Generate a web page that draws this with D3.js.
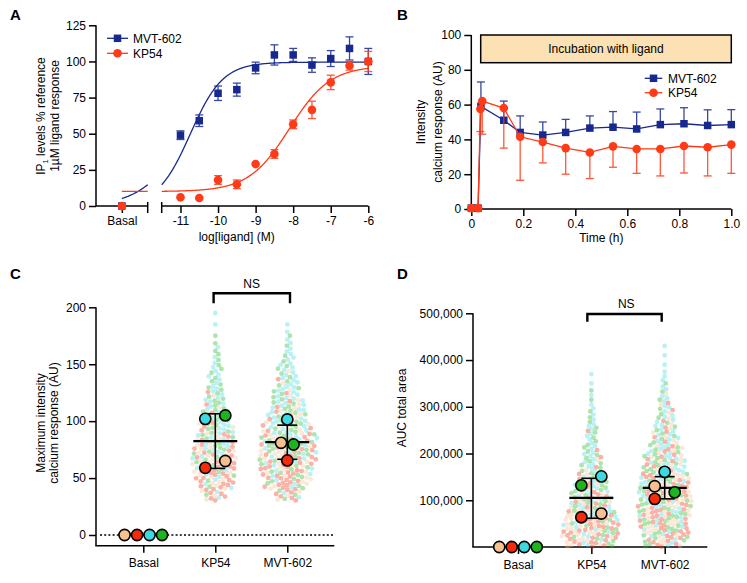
<!DOCTYPE html>
<html><head><meta charset="utf-8">
<script src="https://cdn.jsdelivr.net/npm/d3@7"></script>
<style>
body{margin:0;background:#fff}
svg{display:block}
text{font-family:"Liberation Sans",Arial,Helvetica,sans-serif;fill:#000}
</style>
</head><body>
<svg id="c" width="747" height="583"></svg>
<script>
// ================= DATA =================
// Panel A – IP1 dose response
const logConc   = [-11,-10.5,-10,-9.5,-9,-8.5,-8,-7.5,-7,-6.5,-6];
const basalLog  = -12;
const mvtIP     = [49,59,78,80.5,95.5,104.5,104.5,97.5,102,109,100];
const mvtIPErr  = [3,4,5,4.5,4,7,4.5,5,5.5,8,9];
const kpIP      = [6,5.5,18,15,29,36,56.5,66.5,85.5,97,100];
const kpIPErr   = [0,0,3,3,0,3,3,6,5,3,7];
const basalIP   = [0,0];               // MVT-602, KP54
const mvtFit    = [0,99.5,-10.74,1];   // bottom, top, logEC50, hill
const kpFit     = [10,97,-8.1,0.8];
const aYTicks   = [0,25,50,75,100,125];
const aXTicks   = [-11,-10,-9,-8,-7,-6];

// Panel B – calcium time course
const mvtTime   = [0,0.026,0.037,0.125,0.188,0.275,0.363,0.456,0.545,0.636,0.727,0.818,0.909,1.0];
const mvtCa     = [0.5,0.5,59,51,44,42.5,44,46.5,47,46,48.5,49,48,48.5];
const mvtCaErr  = [0,0,14,11,9.5,7.5,7.5,7,9,9.7,9,9.2,9,8.6];
const kpTime    = [0,0.026,0.035,0.042,0.125,0.188,0.275,0.363,0.456,0.545,0.636,0.727,0.818,0.909,1.0];
const kpCa      = [0.5,0.5,57.5,62,58,41.5,38.5,35,32.5,36,34.5,34.5,36.2,35.5,37];
const kpCaErr   = [0,0,13,19,23,25,12,15,15,12,14,15.5,15.5,16.5,16.5];
const bYTicks   = [0,20,40,60,80,100];
const bXTicks   = [0,0.2,0.4,0.6,0.8,1.0];

// Panels C/D – categories and donor (replicate) colours: peach, red, cyan, green
const groups    = ["Basal","KP54","MVT-602"];
const donors    = ["#f7c08f","#f52a0a","#3ed8e0","#1fb31f"];
// Panel C – max intensity, replicate means per donor [peach, red, cyan, green]
const cBasal    = [0,0,0,0];
const cKP       = [65,59,102,105];
const cMVT      = [81,65.5,101.5,79.5];
const cMeanSD   = {KP54:[82.5,58.5,106.5], "MVT-602":[81.5,66.5,96.5]}; // mean, low, high
const cYTicks   = [0,50,100,150,200];
// single-cell distribution, counts per 10-unit bin starting at 30
const cBin0 = 30, cBinW = 10;
const cKPCells = [
  [3,5,6,7,6,5,3,2,1,1,0,0,0,0,0,0,0],
  [6,9,9,8,6,4,3,2,1,1,0,0,0,0,0,0,0],
  [2,3,4,5,6,6,6,6,5,4,4,3,2,1,0,1,1],
  [1,2,3,4,5,6,6,6,5,4,3,3,2,2,1,0,0]];
const cMVTCells = [
  [3,5,6,8,8,7,6,4,3,2,1,1,0,0,0,0],
  [6,10,11,10,8,6,4,3,2,1,1,0,0,0,0,0],
  [2,3,4,5,6,7,8,8,8,7,6,5,4,3,2,1],
  [3,5,6,7,8,8,7,6,5,4,3,3,2,1,1,0]];
// Panel D – AUC
const dBasal    = [0,0,0,0];
const dKP       = [71600,63700,151000,132000];
const dMVT      = [130000,103000,160700,117000];
const dMeanSD   = {KP54:[105000,61500,147000], "MVT-602":[126500,103000,150500]};
const dYTicks   = [100000,200000,300000,400000,500000];
const dBin0 = 0, dBinW = 20000;
const dKPCells = [
  [7,8,8,7,6,4,3,2,1,1,0,0,0,0,0,0,0,0,0],
  [9,10,9,7,5,4,3,2,1,1,1,0,1,0,0,0,0,0,0],
  [3,4,4,5,5,5,5,5,4,4,3,3,3,2,2,1,1,1,1],
  [4,5,5,5,5,5,5,4,4,3,3,2,2,2,1,1,1,0,0]];
const dMVTCells = [
  [4,5,6,6,6,6,6,6,5,4,4,3,2,2,1,1,1,0,0,0,0,0],
  [7,8,8,8,7,7,6,5,4,4,3,2,2,1,1,1,0,0,0,0,0,0],
  [3,4,4,5,5,5,6,6,6,6,5,5,4,4,3,3,2,2,2,1,1,1],
  [5,6,6,7,7,7,6,6,5,5,4,3,3,2,2,1,1,1,0,0,0,0]];

// ================= DRAWING =================
const BLUE = "#17298f", RED = "#ff3a17";
const svg = d3.select("#c");
const FS = 12;

function styleAxis(g){
  g.select(".domain").remove();
  g.selectAll(".tick line").attr("stroke","#000").attr("stroke-width",1.5);
  g.selectAll(".tick text").attr("font-size",FS).attr("fill","#000");
  g.attr("font-family",null).attr("font-size",null);
}
function hline(g,x1,x2,y,w){g.append("line").attr("x1",x1).attr("x2",x2).attr("y1",y).attr("y2",y).attr("stroke","#000").attr("stroke-width",w||1.5);}
function vline(g,x,y1,y2,w){g.append("line").attr("x1",x).attr("x2",x).attr("y1",y1).attr("y2",y2).attr("stroke","#000").attr("stroke-width",w||1.5);}
function rotLabel(g,x,y,txt){return g.append("text").attr("transform",`translate(${x},${y}) rotate(-90)`).attr("text-anchor","middle").attr("font-size",FS).text(txt);}
function letter(x,y,t){svg.append("text").attr("x",x).attr("y",y).attr("font-size",15).attr("font-weight","bold").text(t);}
const logistic = (p,x)=> p[0] + (p[1]-p[0])/(1+Math.pow(10,(p[2]-x)*p[3]));

// ---------- Panel A ----------
(function(){
  const g = svg.append("g");
  const yA = d3.scaleLinear([0,125],[206,25.3]);
  const xAm = d3.scaleLinear([-11.5,-6],[161.7,368.3]);
  const xAb = d3.scaleLinear([-12.5,-11.5],[96,147.7]);
  const y0 = yA(0);
  const ya = g.append("g").attr("transform","translate(96,0)")
     .call(d3.axisLeft(yA).tickValues(aYTicks).tickSize(7).tickPadding(3).tickSizeOuter(0));
  styleAxis(ya);
  vline(g,96,yA(125),y0);
  const xa = g.append("g").attr("transform",`translate(0,${y0})`)
     .call(d3.axisBottom(xAm).tickValues(aXTicks).tickSize(7).tickPadding(3).tickFormat(d=>String(d)));
  styleAxis(xa);
  const xb = g.append("g").attr("transform",`translate(0,${y0})`)
     .call(d3.axisBottom(xAb).tickValues([basalLog]).tickSize(7).tickPadding(3).tickFormat(()=> "Basal"));
  styleAxis(xb);
  hline(g,96,xAb(-11.5),y0); hline(g,xAm(-11.5),xAm(-6),y0);
  vline(g,xAb(-11.5),y0-4,y0+7); vline(g,xAm(-11.5),y0-4,y0+7);
  const line = d3.line().x(d=>d[0]).y(d=>d[1]);
  function curve(p,color){
    const seg1 = d3.range(basalLog,-11.5+1e-9,0.01).map(v=>[xAb(v),yA(logistic(p,v))]);
    const seg2 = d3.range(-11.5,-6+1e-9,0.01).map(v=>[xAm(v),yA(logistic(p,v))]);
    [seg1,seg2].forEach(s=>g.append("path").attr("d",line(s)).attr("fill","none").attr("stroke",color).attr("stroke-width",1.3));
  }
  curve(mvtFit,BLUE); curve(kpFit,RED);
  function errs(vals,err,color){
    vals.forEach((v,i)=>{ if(!err[i]) return;
      const x=xAm(logConc[i]);
      const e=g.append("g").attr("stroke",color).attr("stroke-width",1.3).attr("opacity",0.85);
      e.append("line").attr("x1",x).attr("x2",x).attr("y1",yA(v-err[i])).attr("y2",yA(v+err[i]));
      [v-err[i],v+err[i]].forEach(t=>e.append("line").attr("x1",x-4).attr("x2",x+4).attr("y1",yA(t)).attr("y2",yA(t)));
    });
  }
  errs(mvtIP,mvtIPErr,BLUE); errs(kpIP,kpIPErr,RED);
  const sq = 7.5;
  g.selectAll(null).data(mvtIP).join("rect").attr("x",(d,i)=>xAm(logConc[i])-sq/2).attr("y",d=>yA(d)-sq/2).attr("width",sq).attr("height",sq).attr("fill",BLUE);
  g.append("rect").attr("x",xAb(basalLog)-sq/2).attr("y",yA(basalIP[0])-sq/2).attr("width",sq).attr("height",sq).attr("fill",BLUE);
  g.selectAll(null).data(kpIP).join("circle").attr("cx",(d,i)=>xAm(logConc[i])).attr("cy",d=>yA(d)).attr("r",4.3).attr("fill",RED);
  g.append("circle").attr("cx",xAb(basalLog)).attr("cy",yA(basalIP[1])).attr("r",4.3).attr("fill",RED);
  [[BLUE,"MVT-602",38.3,"rect"],[RED,"KP54",53.3,"circle"]].forEach(([c,t,y,m])=>{
    g.append("line").attr("x1",107).attr("x2",128).attr("y1",y).attr("y2",y).attr("stroke",c).attr("stroke-width",1.3);
    if(m==="rect") g.append("rect").attr("x",117.5-sq/2).attr("y",y-sq/2).attr("width",sq).attr("height",sq).attr("fill",c);
    else g.append("circle").attr("cx",117.5).attr("cy",y).attr("r",4.3).attr("fill",c);
    g.append("text").attr("x",133).attr("y",y+4.3).attr("font-size",FS).text(t);
  });
  g.append("text").attr("x",236.7).attr("y",241).attr("text-anchor","middle").attr("font-size",FS).text("log[ligand] (M)");
  const t1 = g.append("text").attr("transform","translate(45,116) rotate(-90)").attr("text-anchor","middle").attr("font-size",FS);
  t1.append("tspan").text("IP");
  t1.append("tspan").attr("font-size",7.5).attr("dy",3).text("1");
  t1.append("tspan").attr("dy",-3).text(" levels % reference");
  rotLabel(g,58.5,116,"1µM ligand response");
})();

// ---------- Panel B ----------
(function(){
  const g = svg.append("g");
  const xB = d3.scaleLinear([0,1],[471.3,731.3]);
  const yB = d3.scaleLinear([0,100],[209,35]);
  g.append("rect").attr("x",480.7).attr("y",yB(100)).attr("width",xB(1)-480.7).attr("height",27.7)
    .attr("fill","#fbe1b4").attr("stroke","#000").attr("stroke-width",1.5);
  g.append("text").attr("x",(480.7+xB(1))/2).attr("y",yB(100)+18.2).attr("text-anchor","middle").attr("font-size",FS).text("Incubation with ligand");
  const ya = g.append("g").attr("transform",`translate(${xB(0)},0)`)
     .call(d3.axisLeft(yB).tickValues(bYTicks).tickSize(7).tickPadding(3).tickSizeOuter(0));
  styleAxis(ya);
  const xa = g.append("g").attr("transform",`translate(0,${yB(0)})`)
     .call(d3.axisBottom(xB).tickValues(bXTicks).tickSize(7).tickPadding(3).tickFormat(d=>d===0?"0":d.toFixed(1)));
  styleAxis(xa);
  vline(g,xB(0),yB(100),yB(0)); hline(g,xB(0),xB(1),yB(0));
  const line = d3.line();
  g.append("path").attr("d",line(mvtTime.map((t,i)=>[xB(t),yB(mvtCa[i])]))).attr("fill","none").attr("stroke",BLUE).attr("stroke-width",1.3);
  mvtCa.forEach((v,i)=>{ if(!mvtCaErr[i]) return; const x=xB(mvtTime[i]);
    const e=g.append("g").attr("stroke",BLUE).attr("stroke-width",1.3).attr("opacity",0.85);
    e.append("line").attr("x1",x).attr("x2",x).attr("y1",yB(v)).attr("y2",yB(v+mvtCaErr[i]));
    e.append("line").attr("x1",x-4).attr("x2",x+4).attr("y1",yB(v+mvtCaErr[i])).attr("y2",yB(v+mvtCaErr[i]));
  });
  const sq=7.5;
  g.selectAll(null).data(mvtCa).join("rect").attr("x",(d,i)=>xB(mvtTime[i])-sq/2).attr("y",d=>yB(d)-sq/2).attr("width",sq).attr("height",sq).attr("fill",BLUE);
  g.append("path").attr("d",line(kpTime.map((t,i)=>[xB(t),yB(kpCa[i])]))).attr("fill","none").attr("stroke",RED).attr("stroke-width",1.3);
  kpCa.forEach((v,i)=>{ if(!kpCaErr[i]) return; const x=xB(kpTime[i]);
    const e=g.append("g").attr("stroke",RED).attr("stroke-width",1.3).attr("opacity",0.85);
    e.append("line").attr("x1",x).attr("x2",x).attr("y1",yB(v)).attr("y2",yB(v-kpCaErr[i]));
    e.append("line").attr("x1",x-4).attr("x2",x+4).attr("y1",yB(v-kpCaErr[i])).attr("y2",yB(v-kpCaErr[i]));
  });
  g.selectAll(null).data(kpCa).join("circle").attr("cx",(d,i)=>xB(kpTime[i])).attr("cy",d=>yB(d)).attr("r",4.3).attr("fill",RED);
  [[BLUE,"MVT-602",78.3,"rect"],[RED,"KP54",92.7,"circle"]].forEach(([c,t,y,m])=>{
    g.append("line").attr("x1",644.7).attr("x2",662.3).attr("y1",y).attr("y2",y).attr("stroke",c).attr("stroke-width",1.3);
    if(m==="rect") g.append("rect").attr("x",653.5-sq/2).attr("y",y-sq/2).attr("width",sq).attr("height",sq).attr("fill",c);
    else g.append("circle").attr("cx",653.5).attr("cy",y).attr("r",4.3).attr("fill",c);
    g.append("text").attr("x",668).attr("y",y+4.3).attr("font-size",FS).text(t);
  });
  g.append("text").attr("x",xB(0.5)).attr("y",242).attr("text-anchor","middle").attr("font-size",FS).text("Time (h)");
  rotLabel(g,425,122,"Intensity");
  rotLabel(g,441.5,122,"calcium response (AU)");
})();

// ---------- beeswarm helpers ----------
function buildDots(lo0, binW, counts){
  const nb = d3.max(counts, a=>a.length), dots=[];
  for(let b=0;b<nb;b++){
    const cnt = counts.map(a=>a[b]||0), n=d3.sum(cnt), used=[0,0,0,0];
    for(let k=0;k<n;k++){
      let best=-1,bs=-Infinity;
      for(let c=0;c<4;c++){ if(used[c]>=cnt[c]) continue; const s=cnt[c]*(k+1)/n-used[c]; if(s>bs){bs=s;best=c;} }
      used[best]++;
      dots.push({v:lo0+b*binW+(k+0.5)/n*binW, c:best});
    }
  }
  return dots;
}
function swarm(dots, yScale, diam){
  dots.forEach(d=>d.y=yScale(d.v));
  const placed=[], D2=diam*diam;
  dots.slice().sort((a,b)=>a.y-b.y).forEach((d,i)=>{
    const near = placed.filter(p=>Math.abs(p.y-d.y)<diam);
    const cands=[0];
    near.forEach(p=>{const dx=Math.sqrt(D2-(p.y-d.y)**2); cands.push(p.x+dx,p.x-dx);});
    cands.sort((a,b)=>Math.abs(a)-Math.abs(b) || (i%2? a-b : b-a));
    for(const x of cands){ if(near.every(p=>(p.x-x)**2+(p.y-d.y)**2>=D2-1e-6)){d.x=x;break;} }
    placed.push(d);
  });
  return dots;
}
function repOffsets(vals, yScale){
  const pts = vals.map((v,i)=>({i,y:yScale(v)})).sort((a,b)=>a.y-b.y || a.i-b.i);
  const rows=[]; let cur=[];
  pts.forEach(p=>{ if(cur.length && p.y-cur[cur.length-1].y>=12){rows.push(cur);cur=[];} cur.push(p); });
  if(cur.length) rows.push(cur);
  const off=new Array(vals.length).fill(0);
  rows.forEach(r=>{
    if(r.length===1) return;
    const flat = d3.max(r,p=>p.y)-d3.min(r,p=>p.y) < 3;
    if(flat){ r.sort((a,b)=>a.i-b.i).forEach((p,k)=>off[p.i]=(k-(r.length-1)/2)*12.5); }
    else { r.slice().sort((a,b)=>b.y-a.y).forEach((p,k)=>off[p.i]= (k%2===0?-10:10)); }
  });
  return off;
}
function scatterPanel(g, x, y, cellSets, reps, meanSD, diam){
  cellSets.forEach(([grp,counts,bin0,binW])=>{
    const dots = swarm(buildDots(bin0,binW,counts), y, diam);
    g.append("g").selectAll("circle").data(dots).join("circle")
      .attr("cx",d=>x(grp)+d.x).attr("cy",d=>d.y).attr("r",2.4)
      .attr("fill",d=>donors[d.c]).attr("fill-opacity",0.36);
  });
  Object.entries(meanSD).forEach(([grp,[m,lo,hi]])=>{
    const cx=x(grp);
    vline(g,cx,y(hi),y(lo),1.6);
    hline(g,cx-10,cx+10,y(hi),1.6); hline(g,cx-10,cx+10,y(lo),1.6);
    hline(g,cx-22,cx+22,y(m),2.2);
  });
  reps.forEach(([grp,vals])=>{
    const off = repOffsets(vals,y);
    g.append("g").selectAll("circle").data(vals).join("circle")
      .attr("cx",(d,i)=>x(grp)+off[i]).attr("cy",d=>y(d)).attr("r",5.6)
      .attr("fill",(d,i)=>donors[i]).attr("stroke","#000").attr("stroke-width",1.6);
  });
}

// ---------- Panel C ----------
(function(){
  const g = svg.append("g");
  const y = d3.scaleLinear([0,200],[535,307.3]);
  const x = d3.scalePoint(groups,[143.3,287.3]);
  const axY = 545.7;
  const ya = g.append("g").attr("transform","translate(96,0)")
     .call(d3.axisLeft(y).tickValues(cYTicks).tickSize(7).tickPadding(3).tickSizeOuter(0));
  styleAxis(ya);
  const xa = g.append("g").attr("transform",`translate(0,${axY})`)
     .call(d3.axisBottom(x).tickSize(7).tickPadding(6).tickSizeOuter(0));
  styleAxis(xa);
  vline(g,96,y(200),axY); hline(g,95.3,334.3,axY);
  g.append("line").attr("x1",100).attr("x2",333).attr("y1",y(0)).attr("y2",y(0))
    .attr("stroke","#000").attr("stroke-width",1.7).attr("stroke-dasharray","2,2.2");
  scatterPanel(g,x,y,[["KP54",cKPCells,cBin0,cBinW],["MVT-602",cMVTCells,cBin0,cBinW]],
    [["Basal",cBasal],["KP54",cKP],["MVT-602",cMVT]], cMeanSD, 4.6);
  g.append("path").attr("d",`M${x("KP54")-1.7},303.3V293.3H${x("MVT-602")+2.7}V303.3`)
    .attr("fill","none").attr("stroke","#000").attr("stroke-width",2.4);
  g.append("text").attr("x",251.7).attr("y",287.5).attr("text-anchor","middle").attr("font-size",FS).text("NS");
  rotLabel(g,45,423,"Maximum intensity");
  rotLabel(g,58,423,"calcium response (AU)");
})();

// ---------- Panel D ----------
(function(){
  const g = svg.append("g");
  const y = d3.scaleLinear([0,500000],[547,313.3]);
  const x = d3.scalePoint(groups,[518,664.7]);
  const axY = y(0);
  const ya = g.append("g").attr("transform","translate(473,0)")
     .call(d3.axisLeft(y).tickValues(dYTicks).tickSize(7).tickPadding(3).tickSizeOuter(0).tickFormat(d3.format(",")));
  styleAxis(ya);
  const xa = g.append("g").attr("transform",`translate(0,${axY})`)
     .call(d3.axisBottom(x).tickSize(7).tickPadding(6).tickSizeOuter(0));
  styleAxis(xa);
  vline(g,473,y(500000),axY); hline(g,472.3,707.3,axY);
  scatterPanel(g,x,y,[["KP54",dKPCells,dBin0,dBinW],["MVT-602",dMVTCells,dBin0,dBinW]],
    [["Basal",dBasal],["KP54",dKP],["MVT-602",dMVT]], dMeanSD, 4.4);
  g.append("path").attr("d",`M${x("KP54")-4},321.7V314H${x("MVT-602")-3}V321.7`)
    .attr("fill","none").attr("stroke","#000").attr("stroke-width",2.4);
  g.append("text").attr("x",626.3).attr("y",308).attr("text-anchor","middle").attr("font-size",FS).text("NS");
  rotLabel(g,406,408,"AUC total area");
})();

letter(10,20,"A"); letter(397,20,"B"); letter(10,279,"C"); letter(397,279,"D");
</script>
</body></html>
